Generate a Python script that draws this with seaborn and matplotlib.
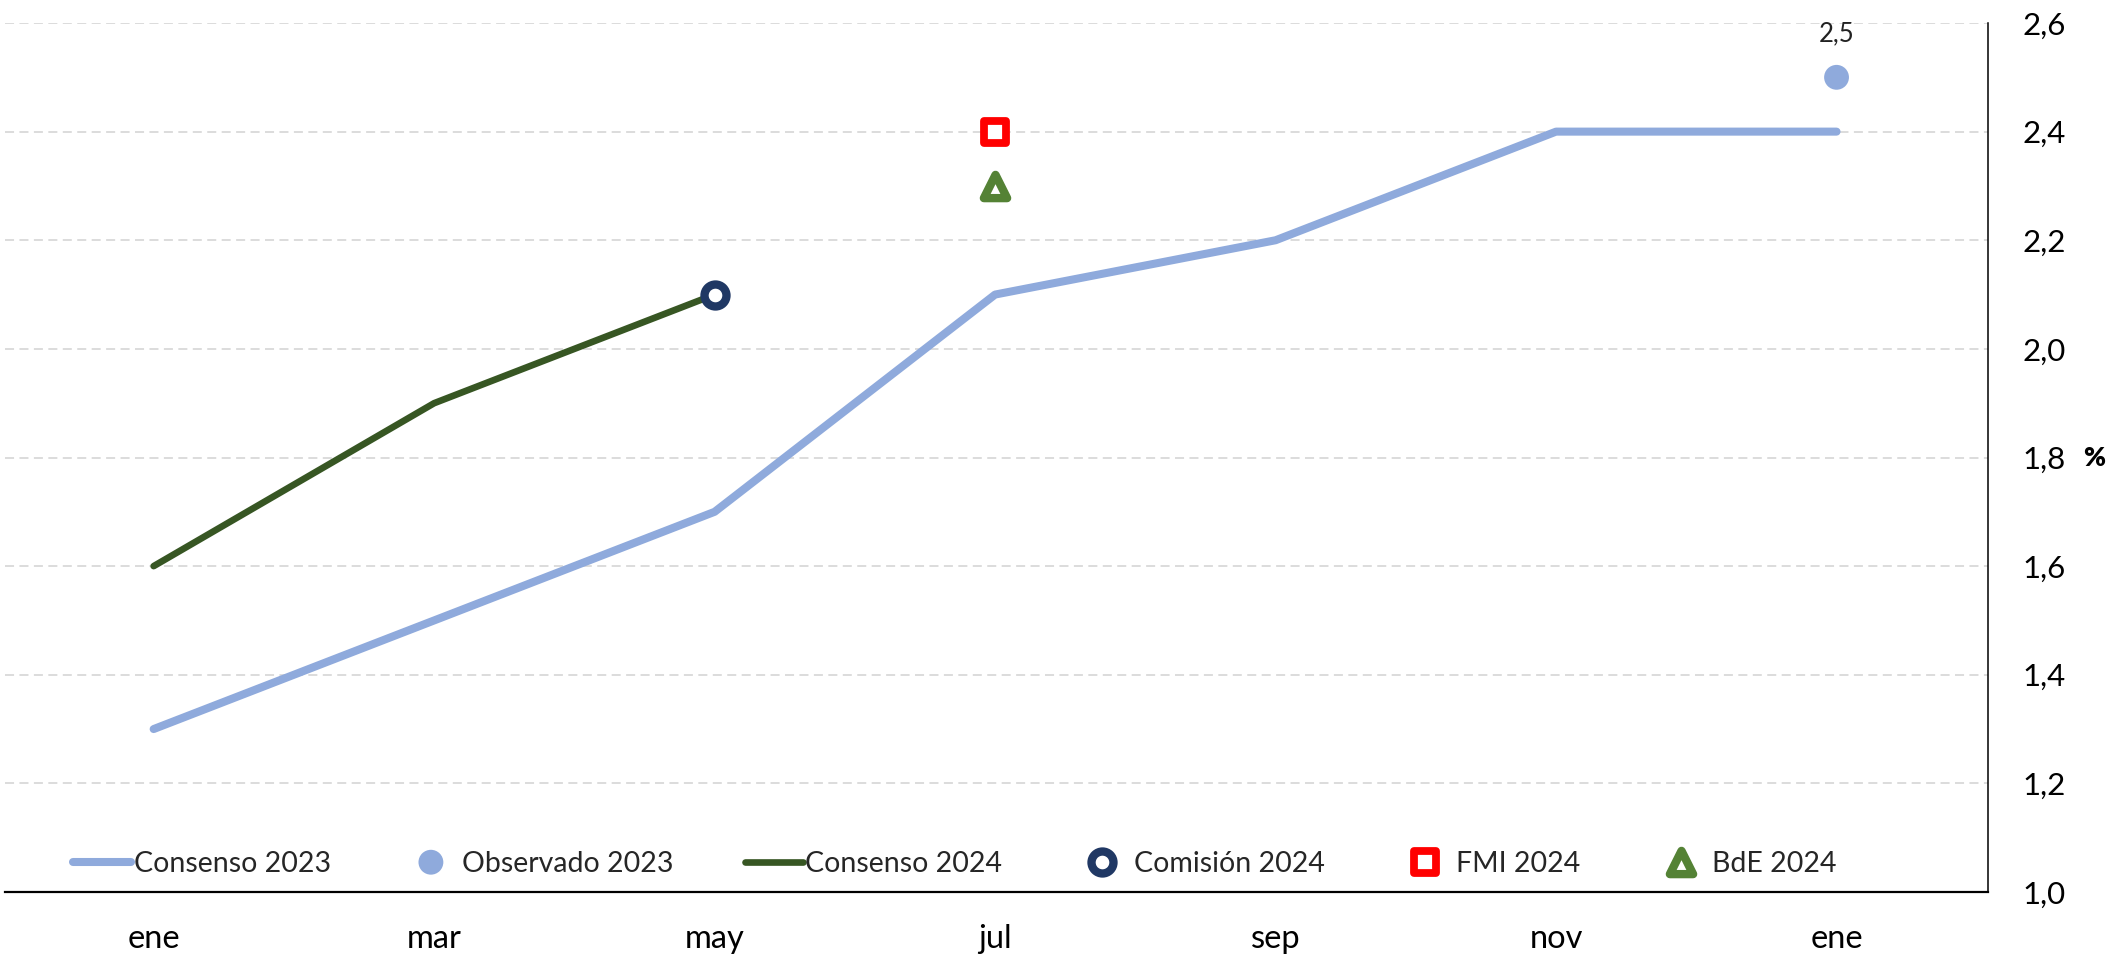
import matplotlib
matplotlib.use("Agg")
import matplotlib.pyplot as plt
import matplotlib.transforms as mtransforms
import numpy as np
import pandas as pd
import seaborn as sns

# ---- data ----
months = ["ene", "mar", "may", "jul", "sep", "nov", "ene"]
consenso_2023 = [1.3, 1.5, 1.7, 2.1, 2.2, 2.4, 2.4]
consenso_2024 = [1.6, 1.9, 2.1]
observado_2023_idx = [6]
observado_2023 = [2.5]
comision_2024_idx = [2]
comision_2024 = [2.1]
fmi_2024_idx = [3]
fmi_2024 = [2.4]
bde_2024_idx = [3]
bde_2024 = [2.3]
y_ticks = [1.0, 1.2, 1.4, 1.6, 1.8, 2.0, 2.2, 2.4, 2.6]

sns.set_theme(style="white")
plt.rcParams["font.family"] = ["Lato", "DejaVu Sans"]

W, H = 2128, 959
fig = plt.figure(figsize=(W / 100, H / 100), dpi=100)
ax = fig.add_axes([5 / W, (H - 892) / H, (1988 - 5) / W, (892 - 23) / H])

pos = list(range(len(months)))
df23 = pd.DataFrame({"x": pos, "y": consenso_2023})
df24 = pd.DataFrame({"x": pos[:len(consenso_2024)], "y": consenso_2024})

c23 = "#8faadc"
c24 = "#375623"

# gridlines
for yv in y_ticks[1:]:
    ax.axhline(yv, color="#d9d9d9", lw=1.3, ls=(0, (5, 3)), zorder=0)

sns.lineplot(data=df23, x="x", y="y", color=c23, lw=5.8, label="Consenso 2023",
             solid_capstyle="round", ax=ax, zorder=3)
sns.scatterplot(x=observado_2023_idx, y=observado_2023, color=c23, s=320,
                edgecolor="none", label="Observado 2023", ax=ax, zorder=4)
sns.lineplot(data=df24, x="x", y="y", color=c24, lw=4.8, label="Consenso 2024",
             solid_capstyle="round", ax=ax, zorder=3)
sns.scatterplot(x=comision_2024_idx, y=comision_2024, marker="o", s=250,
                facecolor="white", edgecolor="#203864", linewidth=6.0,
                label="Comisión 2024", ax=ax, zorder=5)
sns.scatterplot(x=fmi_2024_idx, y=fmi_2024, marker="s", s=260,
                facecolor="white", edgecolor="#ff0000", linewidth=5.6,
                joinstyle="round", label="FMI 2024", ax=ax, zorder=5)
sns.scatterplot(x=bde_2024_idx, y=bde_2024, marker="^", s=280,
                facecolor="white", edgecolor="#548235", linewidth=6.0,
                joinstyle="round", label="BdE 2024", ax=ax, zorder=5)

# annotation for observed value
for xi, yi in zip(observado_2023_idx, observado_2023):
    ax.annotate(f"{yi:.1f}".replace(".", ","), (xi, yi), xytext=(0, 22),
                textcoords="offset points", ha="center", va="bottom",
                fontsize=18.5, color="#222222")

ax.set_xlim(-0.53, 6.54)
ax.set_ylim(1.0, 2.6)
ax.set_xticks(pos)
ax.set_xticklabels(months)
ax.set_yticks(y_ticks)
ax.set_yticklabels([f"{v:.1f}".replace(".", ",") for v in y_ticks])
ax.yaxis.tick_right()
ax.tick_params(axis="y", length=0, pad=25, labelsize=22.5, labelcolor="black")
ax.tick_params(axis="x", length=0, pad=23, labelsize=23.5, labelcolor="black")
ax.set_xlabel("")
ax.set_ylabel("")

for s in ["top", "left"]:
    ax.spines[s].set_visible(False)
ax.spines["bottom"].set_color("black")
ax.spines["bottom"].set_linewidth(1.6)
ax.spines["right"].set_color("black")
ax.spines["right"].set_linewidth(1.1)

# % label
trans = mtransforms.blended_transform_factory(ax.transAxes, ax.transData)
ax.text(1.0535, 1.8, "%", transform=trans, ha="center", va="center",
        fontsize=19, fontweight="heavy", color="black")

handles, labels = ax.get_legend_handles_labels()
fs = 20.5
leg = ax.legend(handles, labels, ncol=6, frameon=False, fontsize=fs,
                loc="center", bbox_to_anchor=(0.479, 0.032),
                handlelength=2.04, handletextpad=0.08, columnspacing=2.5,
                scatteryoffsets=[0.5], borderaxespad=0)
for lh in leg.get_lines():
    lh.set_solid_capstyle("round")

fig.savefig("out.png", dpi=100)
